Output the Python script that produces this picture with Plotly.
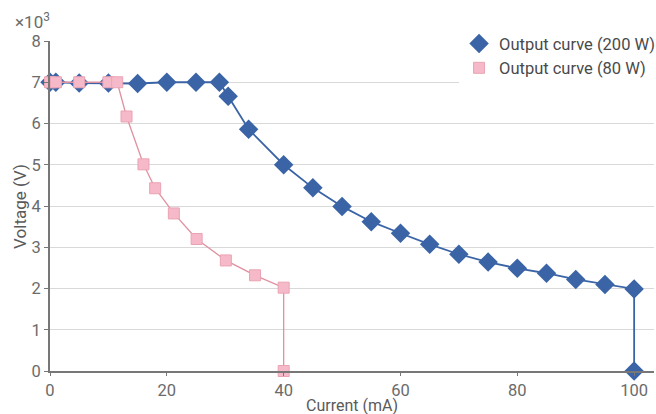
import plotly.graph_objects as go

# 200 W output curve
current_200 = [0, 1, 5, 10, 15, 20, 25, 29, 30.5, 34, 40, 45, 50, 55, 60, 65, 70, 75, 80, 85, 90, 95, 100, 100]
voltage_200 = [7.0, 7.0, 6.98, 6.98, 6.97, 7.0, 7.0, 7.0, 6.66, 5.86, 5.0, 4.44, 3.99, 3.62, 3.34, 3.07, 2.83, 2.64, 2.49, 2.37, 2.22, 2.1, 1.99, 0]

# 80 W output curve
current_80 = [0, 1, 5, 10, 11.5, 13.1, 16, 18, 21.2, 25.1, 30.1, 35.1, 40, 40]
voltage_80 = [7.0, 7.0, 7.0, 7.0, 7.0, 6.17, 5.01, 4.43, 3.82, 3.2, 2.68, 2.32, 2.02, 0]

y_ticks = [0, 1, 2, 3, 4, 5, 6, 7, 8]
x_ticks = [0, 20, 40, 60, 80, 100]

FONT = "Roboto, sans-serif"
BLUE = "#3a64a6"
PINK_FILL = "#f6b9c9"
PINK_EDGE = "#eaa3b3"
PINK_LINE = "#e0909f"

fig = go.Figure()
fig.add_trace(go.Scatter(
    x=current_200, y=voltage_200, mode="lines+markers", name="Output curve (200 W)",
    line=dict(color=BLUE, width=1.8),
    marker=dict(symbol="diamond", size=15, color=BLUE),
    cliponaxis=False, showlegend=False,
))
fig.add_trace(go.Scatter(
    x=current_80, y=voltage_80, mode="lines+markers", name="Output curve (80 W)",
    line=dict(color=PINK_LINE, width=1.3),
    marker=dict(symbol="square", size=11, color=PINK_FILL, line=dict(color=PINK_EDGE, width=1)),
    cliponaxis=False, showlegend=False,
))
# legend entries (marker only)
fig.add_trace(go.Scatter(
    x=[None], y=[None], mode="markers", name="Output curve (200 W)",
    marker=dict(symbol="diamond", size=15, color=BLUE),
))
fig.add_trace(go.Scatter(
    x=[None], y=[None], mode="markers", name="Output curve (80 W)",
    marker=dict(symbol="square", size=11, color=PINK_FILL, line=dict(color=PINK_EDGE, width=1)),
))

fig.update_layout(
    width=656, height=414,
    margin=dict(l=50, r=2, t=41, b=43, autoexpand=False),
    plot_bgcolor="white", paper_bgcolor="white",
    font=dict(family=FONT, size=16.5, color="#6b6b6b"),
    showlegend=True,
    legend=dict(x=1.01, y=1.045, xanchor="right", yanchor="top",
                bgcolor="white", font=dict(size=16.5, color="#4a4a4a"),
                tracegroupgap=0, itemwidth=30, traceorder="normal"),
    xaxis=dict(range=[0, 103.4], tickvals=x_ticks, showgrid=False, zeroline=False,
               showline=True, linecolor="#777777", linewidth=2, automargin=False,
               ticks="outside", ticklen=3, tickcolor="#777777"),
    yaxis=dict(range=[0, 8], tickvals=y_ticks, showgrid=True, gridcolor="#d9d9d9", gridwidth=1.2,
               zeroline=False, showline=True, linecolor="#777777", linewidth=2, automargin=False,
               ticks="outside", ticklen=4, tickcolor="#777777"),
)

fig.add_annotation(text="×10<sup>3</sup>", xref="paper", yref="paper",
                   x=-0.062, y=1.022, xanchor="left", yanchor="bottom", showarrow=False,
                   font=dict(family=FONT, size=17, color="#6b6b6b"))
fig.add_annotation(text="Current (mA)", xref="paper", yref="paper",
                   x=0.5, y=-0.104, xanchor="center", yanchor="middle", showarrow=False,
                   font=dict(family=FONT, size=16, color="#5a5a5a"))
fig.add_annotation(text="Voltage (V)", xref="paper", yref="paper", textangle=-90,
                   x=-0.03, y=0.5, xanchor="right", yanchor="middle", showarrow=False,
                   font=dict(family=FONT, size=17, color="#5a5a5a"))

fig.write_html("out.html", config={"displayModeBar": False},
               post_script="document.body.style.margin='0';")
